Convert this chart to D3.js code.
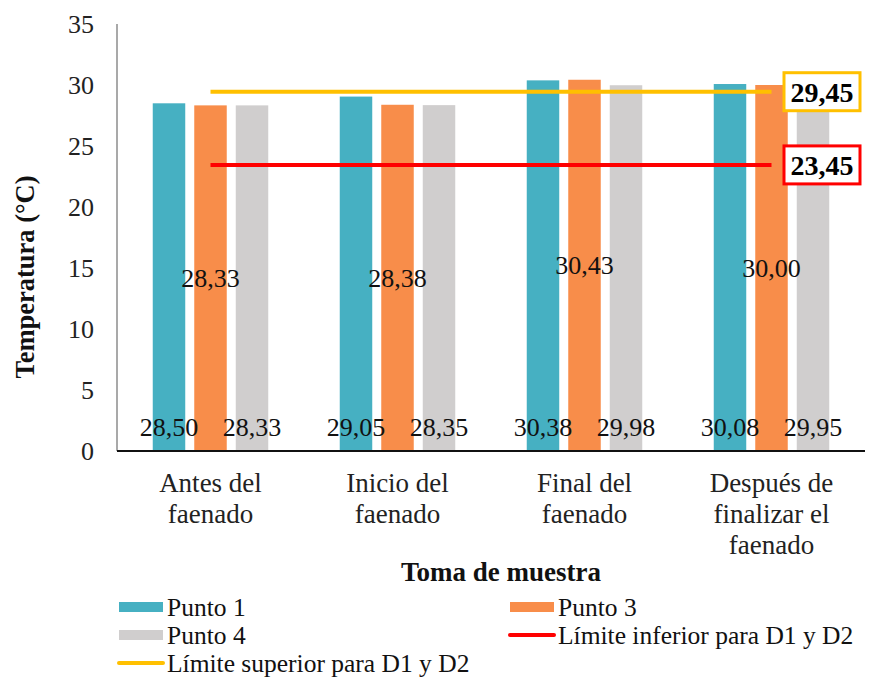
<!DOCTYPE html>
<html>
<head>
<meta charset="utf-8">
<script src="https://cdn.jsdelivr.net/npm/d3@7"></script>
</head>
<body style="margin:0">
<svg id="s" width="873" height="677"></svg>
<script>
const categories = ["Antes del\nfaenado", "Inicio del\nfaenado", "Final del\nfaenado", "Después de\nfinalizar el\nfaenado"];
const seriesNames = ["Punto 1", "Punto 3", "Punto 4"];
const punto1 = [28.50, 29.05, 30.38, 30.08];
const punto3 = [28.33, 28.38, 30.43, 30.00];
const punto4 = [28.33, 28.35, 29.98, 29.95];
const limiteInferior = [23.45, 23.45, 23.45, 23.45];
const limiteSuperior = [29.45, 29.45, 29.45, 29.45];
const yTicks = [0, 5, 10, 15, 20, 25, 30, 35];
const colors = ["#46B0C2", "#F88D4A", "#D0CECE"];
const colInf = "#FF0000", colSup = "#FFC000";

const FF = "Liberation Serif";
const fmt = v => v.toFixed(2).replace(".", ",");
const svg = d3.select("#s");

const x0 = d3.scaleBand().domain(categories).range([117, 865]).paddingInner(0).paddingOuter(0);
const x1 = d3.scaleBand().domain(seriesNames).range([-57.75, 57.75]).paddingInner(0.217);
const y = d3.scaleLinear().domain([0, 35]).range([451, 24]);
const cx = c => x0(c) + x0.bandwidth() / 2;

const seriesVals = [punto1, punto3, punto4];

// Y axis line + tick labels
svg.append("line").attr("x1", 117).attr("x2", 117).attr("y1", y(35)).attr("y2", y(0))
  .attr("stroke", "#8c8c8c").attr("stroke-width", 1.5);
svg.selectAll(".ytick").data(yTicks).enter().append("text")
  .attr("x", 94).attr("y", d => y(d)).attr("dy", "0.35em")
  .attr("text-anchor", "end").attr("font-size", 26).attr("font-family", FF).attr("fill", "#222")
  .text(d => d);

// Bars
seriesNames.forEach((s, si) => {
  svg.append("g").selectAll("rect").data(categories).enter().append("rect")
    .attr("x", c => cx(c) + x1(s))
    .attr("width", x1.bandwidth())
    .attr("y", (c, i) => y(seriesVals[si][i]))
    .attr("height", (c, i) => y(0) - y(seriesVals[si][i]))
    .attr("fill", colors[si]);
});

// X axis line
svg.append("line").attr("x1", 117).attr("x2", 865).attr("y1", y(0)).attr("y2", y(0))
  .attr("stroke", "#111").attr("stroke-width", 2);

// Limit lines
const line = d3.line().x((d, i) => cx(categories[i])).y(d => y(d));
svg.append("path").datum(limiteSuperior).attr("d", line).attr("fill", "none")
  .attr("stroke", colSup).attr("stroke-width", 4);
svg.append("path").datum(limiteInferior).attr("d", line).attr("fill", "none")
  .attr("stroke", colInf).attr("stroke-width", 4);

// Data labels
seriesNames.forEach((s, si) => {
  svg.append("g").selectAll("text").data(categories).enter().append("text")
    .attr("x", c => cx(c) + x1(s) + x1.bandwidth() / 2)
    .attr("y", (c, i) => si === 1 ? y(seriesVals[si][i] / 2) : y(0) - 24)
    .attr("dy", "0.35em").attr("text-anchor", "middle")
    .attr("font-size", 26).attr("font-family", FF).attr("fill", "#111")
    .text((c, i) => fmt(seriesVals[si][i]));
});

// Limit value boxes
[[limiteSuperior, colSup], [limiteInferior, colInf]].forEach(([arr, col]) => {
  const v = arr[arr.length - 1];
  const bx = 784, bw = 76, bh = 38;
  svg.append("rect").attr("x", bx).attr("y", y(v) - bh / 2).attr("width", bw).attr("height", bh)
    .attr("fill", "#fff").attr("stroke", col).attr("stroke-width", 3);
  svg.append("text").attr("x", bx + bw / 2).attr("y", y(v)).attr("dy", "0.35em")
    .attr("text-anchor", "middle").attr("font-size", 28).attr("font-family", FF).attr("font-weight", "bold")
    .attr("fill", "#000").text(fmt(v));
});

// Category labels
categories.forEach(c => {
  const t = svg.append("text").attr("text-anchor", "middle").attr("font-size", 27).attr("font-family", FF).attr("fill", "#222");
  c.split("\n").forEach((ln, li) => {
    t.append("tspan").attr("x", cx(c)).attr("y", 483 + li * 31).attr("dy", "0.35em").text(ln);
  });
});

// Axis titles
svg.append("text").attr("x", 501).attr("y", 572).attr("dy", "0.35em")
  .attr("text-anchor", "middle").attr("font-size", 27).attr("font-family", FF).attr("font-weight", "bold").attr("fill", "#111")
  .text("Toma de muestra");
svg.append("text").attr("transform", "translate(25,277) rotate(-90)").attr("dy", "0.35em")
  .attr("text-anchor", "middle").attr("font-size", 26.5).attr("font-family", FF).attr("font-weight", "bold").attr("fill", "#111")
  .text("Temperatura (°C)");

// Legend
const legendItems = [
  {name: "Punto 1", type: "rect", color: colors[0], x: 119, y: 607},
  {name: "Punto 3", type: "rect", color: colors[1], x: 510, y: 607},
  {name: "Punto 4", type: "rect", color: colors[2], x: 119, y: 635},
  {name: "Límite inferior para D1 y D2", type: "line", color: colInf, x: 510, y: 635},
  {name: "Límite superior para D1 y D2", type: "line", color: colSup, x: 119, y: 663}
];
const lg = svg.append("g");
legendItems.forEach(it => {
  if (it.type === "rect") {
    lg.append("rect").attr("x", it.x).attr("y", it.y - 5).attr("width", 44).attr("height", 10).attr("fill", it.color);
  } else {
    lg.append("line").attr("x1", it.x).attr("x2", it.x + 44).attr("y1", it.y).attr("y2", it.y)
      .attr("stroke", it.color).attr("stroke-width", 4).attr("stroke-linecap", "round");
  }
  lg.append("text").attr("x", it.x + 48).attr("y", it.y).attr("dy", "0.35em")
    .attr("font-size", 25.5).attr("font-family", FF).attr("fill", "#111").text(it.name);
});
</script>
</body>
</html>
